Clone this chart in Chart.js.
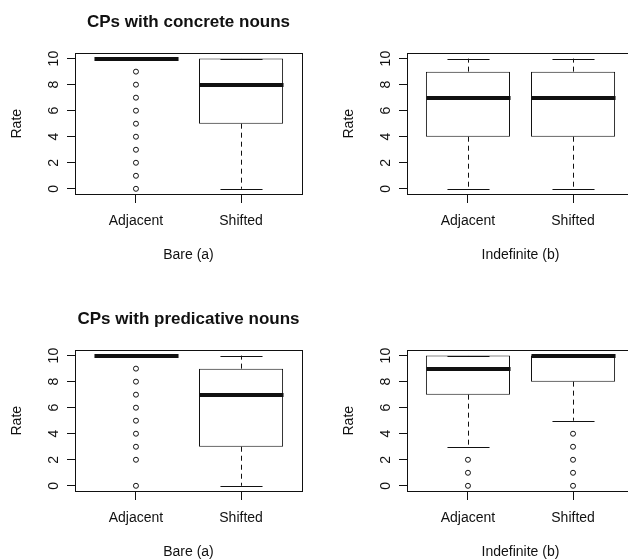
<!DOCTYPE html>
<html>
<head>
<meta charset="utf-8">
<script src="https://cdn.jsdelivr.net/npm/chart.js@4.4.1/dist/chart.umd.min.js"></script>
<style>
  html, body { margin: 0; padding: 0; background: #fff; overflow: hidden; }
  #wrap { position: relative; width: 628px; height: 559px; overflow: hidden; }
  canvas { position: absolute; }
</style>
</head>
<body>
<div id="wrap">
  <canvas id="p1" width="332" height="297" style="left:0;top:0"></canvas>
  <canvas id="p2" width="332" height="297" style="left:332px;top:0"></canvas>
  <canvas id="p3" width="332" height="297" style="left:0;top:297px"></canvas>
  <canvas id="p4" width="332" height="297" style="left:332px;top:297px"></canvas>
</div>
<script>
const categories = ["Adjacent", "Shifted"];
const yTicks = [0, 2, 4, 6, 8, 10];

// CPs with concrete nouns, bare
const concBareLow = [10, 0];
const concBareQ1 = [10, 5];
const concBareMed = [10, 8];
const concBareQ3 = [10, 10];
const concBareHigh = [10, 10];
const concBareOut = [[0, 1, 2, 3, 4, 5, 6, 7, 8, 9], []];

// CPs with concrete nouns, indefinite
const concIndLow = [0, 0];
const concIndQ1 = [4, 4];
const concIndMed = [7, 7];
const concIndQ3 = [9, 9];
const concIndHigh = [10, 10];
const concIndOut = [[], []];

// CPs with predicative nouns, bare
const predBareLow = [10, 0];
const predBareQ1 = [10, 3];
const predBareMed = [10, 7];
const predBareQ3 = [10, 9];
const predBareHigh = [10, 10];
const predBareOut = [[0, 2, 3, 4, 5, 6, 7, 8, 9], []];

// CPs with predicative nouns, indefinite
const predIndLow = [3, 5];
const predIndQ1 = [7, 8];
const predIndMed = [9, 10];
const predIndQ3 = [10, 10];
const predIndHigh = [10, 10];
const predIndOut = [[0, 1, 2], [0, 1, 2, 3, 4]];

const ink = "#111";
Chart.defaults.font.family = '"Liberation Sans", Arial, sans-serif';
Chart.defaults.font.size = 14;
Chart.defaults.color = ink;

// whiskers, staples and medians, placed with the chart's scales
const boxParts = {
  id: "boxParts",
  afterDatasetsDraw(chart, args, opts) {
    const s = opts.stats;
    const { x, y } = chart.scales;
    const ctx = chart.ctx;
    const seg = (x1, y1, x2, y2) => {
      ctx.beginPath();
      ctx.moveTo(x1, y1);
      ctx.lineTo(x2, y2);
      ctx.stroke();
    };
    ctx.save();
    ctx.strokeStyle = ink;
    categories.forEach((c, i) => {
      const cx = Math.round(x.getPixelForValue(i + 1)) + 0.5;
      const half = x.getPixelForValue(i + 1.4) - x.getPixelForValue(i + 1);
      ctx.lineWidth = 1;
      ctx.setLineDash([5, 4]);
      seg(cx, y.getPixelForValue(s.q3[i]), cx, y.getPixelForValue(s.high[i]));
      seg(cx, y.getPixelForValue(s.q1[i]), cx, y.getPixelForValue(s.low[i]));
      ctx.setLineDash([]);
      const hy = Math.round(y.getPixelForValue(s.high[i])) + 0.5;
      const ly = Math.round(y.getPixelForValue(s.low[i])) + 0.5;
      seg(cx - half / 2, hy, cx + half / 2, hy);
      seg(cx - half / 2, ly, cx + half / 2, ly);
      ctx.lineWidth = 4;
      const my = Math.round(y.getPixelForValue(s.med[i]));
      seg(cx - half, my, cx + half, my);
    });
    ctx.restore();
  }
};

// box round the plot region
const frame = {
  id: "frame",
  afterDraw(chart) {
    const a = chart.chartArea;
    const ctx = chart.ctx;
    ctx.save();
    ctx.strokeStyle = ink;
    ctx.lineWidth = 1;
    ctx.strokeRect(Math.round(a.left) + 0.5, Math.round(a.top) + 0.5,
      Math.round(a.right - a.left), Math.round(a.bottom - a.top));
    ctx.restore();
  }
};

function makePanel(id, title, xTitle, s) {
  const boxData = categories.map((c, i) => ({ x: i + 1, y: [s.q1[i], s.q3[i]] }));
  const outData = [];
  s.out.forEach((vals, i) => vals.forEach((v) => outData.push({ x: i + 1, y: v })));

  new Chart(document.getElementById(id), {
    type: "bar",
    data: {
      datasets: [
        {
          type: "bar",
          data: boxData,
          backgroundColor: "#fff",
          borderColor: ink,
          borderWidth: 1,
          borderSkipped: false,
          categoryPercentage: 0.8,
          barPercentage: 1,
        },
        {
          type: "scatter",
          data: outData,
          pointRadius: 2.5,
          borderWidth: 1,
          borderColor: ink,
          backgroundColor: "rgba(0,0,0,0)",
        },
      ],
    },
    options: {
      responsive: false,
      animation: false,
      events: [],
      layout: { padding: { left: 0, right: 30, top: 0, bottom: 0 } },
      plugins: {
        legend: { display: false },
        tooltip: { enabled: false },
        title: {
          display: true,
          text: title,
          fullSize: false,
          color: ink,
          font: { size: 17, weight: "bold" },
          padding: { top: 12, bottom: 21 },
        },
        boxParts: { stats: s },
      },
      scales: {
        x: {
          type: "linear",
          min: 0.42,
          max: 2.58,
          offset: false,
          afterBuildTicks: (sc) => {
            sc.ticks = categories.map((c, i) => ({ value: i + 1 }));
          },
          afterFit: (sc) => {
            sc.height = 103;
            sc.paddingLeft = 0;
            sc.paddingRight = 0;
          },
          ticks: {
            callback: (v) => categories[v - 1],
            padding: 10,
            maxRotation: 0,
            autoSkip: false,
          },
          grid: { drawOnChartArea: false, offset: false, tickLength: 9, color: ink },
          border: { display: false },
          title: {
            display: true,
            text: xTitle,
            color: ink,
            font: { size: 14 },
            padding: { top: 0, bottom: 33 },
          },
        },
        y: {
          type: "linear",
          min: -0.4,
          max: 10.4,
          afterBuildTicks: (sc) => {
            sc.ticks = yTicks.map((v) => ({ value: v }));
          },
          afterFit: (sc) => {
            sc.width = 75;
            sc.paddingTop = 0;
            sc.paddingBottom = 0;
          },
          ticks: {
            minRotation: 90,
            maxRotation: 90,
            crossAlign: "center",
            padding: 5,
          },
          grid: { drawOnChartArea: false, tickLength: 8, color: ink },
          border: { display: false },
          title: {
            display: true,
            text: "Rate",
            color: ink,
            font: { size: 14 },
            padding: { top: 9, bottom: 0 },
          },
        },
      },
    },
    plugins: [boxParts, frame],
  });
}

makePanel("p1", "CPs with concrete nouns", "Bare (a)", {
  low: concBareLow, q1: concBareQ1, med: concBareMed, q3: concBareQ3, high: concBareHigh, out: concBareOut,
});
makePanel("p2", "", "Indefinite (b)", {
  low: concIndLow, q1: concIndQ1, med: concIndMed, q3: concIndQ3, high: concIndHigh, out: concIndOut,
});
makePanel("p3", "CPs with predicative nouns", "Bare (a)", {
  low: predBareLow, q1: predBareQ1, med: predBareMed, q3: predBareQ3, high: predBareHigh, out: predBareOut,
});
makePanel("p4", "", "Indefinite (b)", {
  low: predIndLow, q1: predIndQ1, med: predIndMed, q3: predIndQ3, high: predIndHigh, out: predIndOut,
});
</script>
</body>
</html>
